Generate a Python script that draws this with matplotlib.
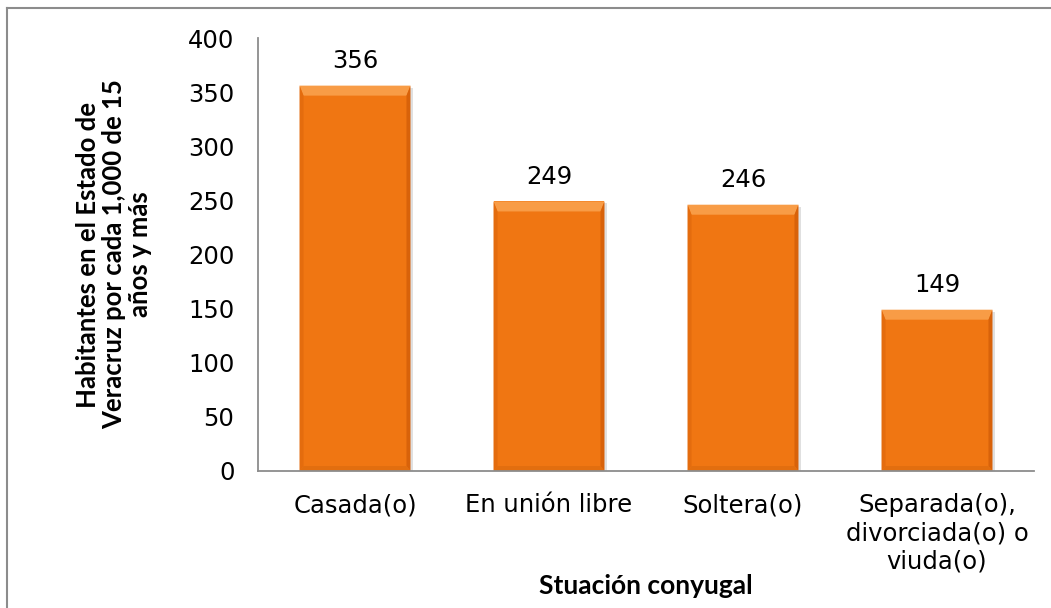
import matplotlib
matplotlib.use("Agg")
import matplotlib.pyplot as plt
from matplotlib.patches import Polygon, Rectangle
from matplotlib.lines import Line2D
from matplotlib.transforms import IdentityTransform

categories = ["Casada(o)", "En unión libre", "Soltera(o)",
              "Separada(o),\ndivorciada(o) o\nviuda(o)"]
values = [356, 249, 246, 149]
y_ticks = [0, 50, 100, 150, 200, 250, 300, 350, 400]
y_label = "Habitantes en el Estado de\nVeracruz por cada 1,000 de 15\naños y más"
x_label = "Stuación conyugal"

W, H = 1051, 608
fig = plt.figure(figsize=(W / 100, H / 100), dpi=100)
fig.patch.set_facecolor("white")
ax = fig.add_axes([258 / W, 137 / H, 776 / W, 433 / H])

main = "#F07612"
x = list(range(len(categories)))
bars = ax.bar(x, values, width=0.572, color=main, edgecolor="none", zorder=2)
ax.set_xlim(-0.5, len(categories) - 0.5)
ax.set_ylim(0, 400)
ax.set_yticks(y_ticks)
ax.set_xticks(x)
ax.set_xticklabels(categories, fontsize=17.5, family="DejaVu Sans", linespacing=1.22)
ax.set_yticklabels([str(v) for v in y_ticks], fontsize=17.5, family="DejaVu Sans")
ax.tick_params(axis="y", length=0, pad=17)
ax.tick_params(axis="x", length=0, pad=16)
for s in ["top", "right"]:
    ax.spines[s].set_visible(False)
for s in ["left", "bottom"]:
    ax.spines[s].set_color("#8c8c8c")
    ax.spines[s].set_linewidth(1.3)
    ax.spines[s].set_zorder(3)

ax.set_ylabel(y_label, fontsize=18.5, fontweight="bold", family="Lato",
              linespacing=1.1, labelpad=26)
fig.text((258 + 776 / 2) / W, 1 - 586 / H, x_label, fontsize=19,
         fontweight="bold", family="Lato", ha="center", va="center")

for b, v in zip(bars, values):
    ax.annotate(str(v), (b.get_x() + b.get_width() / 2, v), xytext=(0, 9),
                textcoords="offset points", ha="center", va="bottom",
                fontsize=17.5, family="DejaVu Sans")

# bevel effect drawn in display pixels from each bar's own geometry
fig.canvas.draw()
for b in bars:
    (x0, y0), (x1, y1) = ax.transData.transform(
        [(b.get_x(), 0), (b.get_x() + b.get_width(), b.get_height())])
    bt, bs, bb = 10, 4, 5
    shadow = Rectangle((x0 + 2, y0), x1 - x0 + 1, y1 - y0 - 2,
                       transform=IdentityTransform(), facecolor="#9a9a9a",
                       alpha=0.3, edgecolor="none", zorder=1.5)
    shadow.set_clip_on(False)
    ax.add_artist(shadow)
    polys = [
        ([(x0, y1), (x1, y1), (x1 - bs, y1 - bt), (x0 + bs, y1 - bt)], "#F89C46"),
        ([(x0, y1), (x0 + bs, y1 - bt), (x0 + bs, y0 + bb), (x0, y0)], "#E46C0E"),
        ([(x1, y1), (x1 - bs, y1 - bt), (x1 - bs, y0 + bb), (x1, y0)], "#D8620A"),
        ([(x0, y0), (x1, y0), (x1 - bs, y0 + bb), (x0 + bs, y0 + bb)], "#E26E0F"),
    ]
    for pts, c in polys:
        p = Polygon(pts, closed=True, transform=IdentityTransform(),
                    facecolor=c, edgecolor="none", zorder=2.5)
        p.set_clip_on(False)
        ax.add_artist(p)

# outer chart frame
fig.add_artist(Line2D([7 / W, 1.01], [1 - 8 / H, 1 - 8 / H],
                      transform=fig.transFigure, color="#8c8c8c", lw=1.5))
fig.add_artist(Line2D([7 / W, 7 / W], [-0.01, 1 - 8 / H],
                      transform=fig.transFigure, color="#8c8c8c", lw=1.5))

fig.savefig("out.png", dpi=100)
